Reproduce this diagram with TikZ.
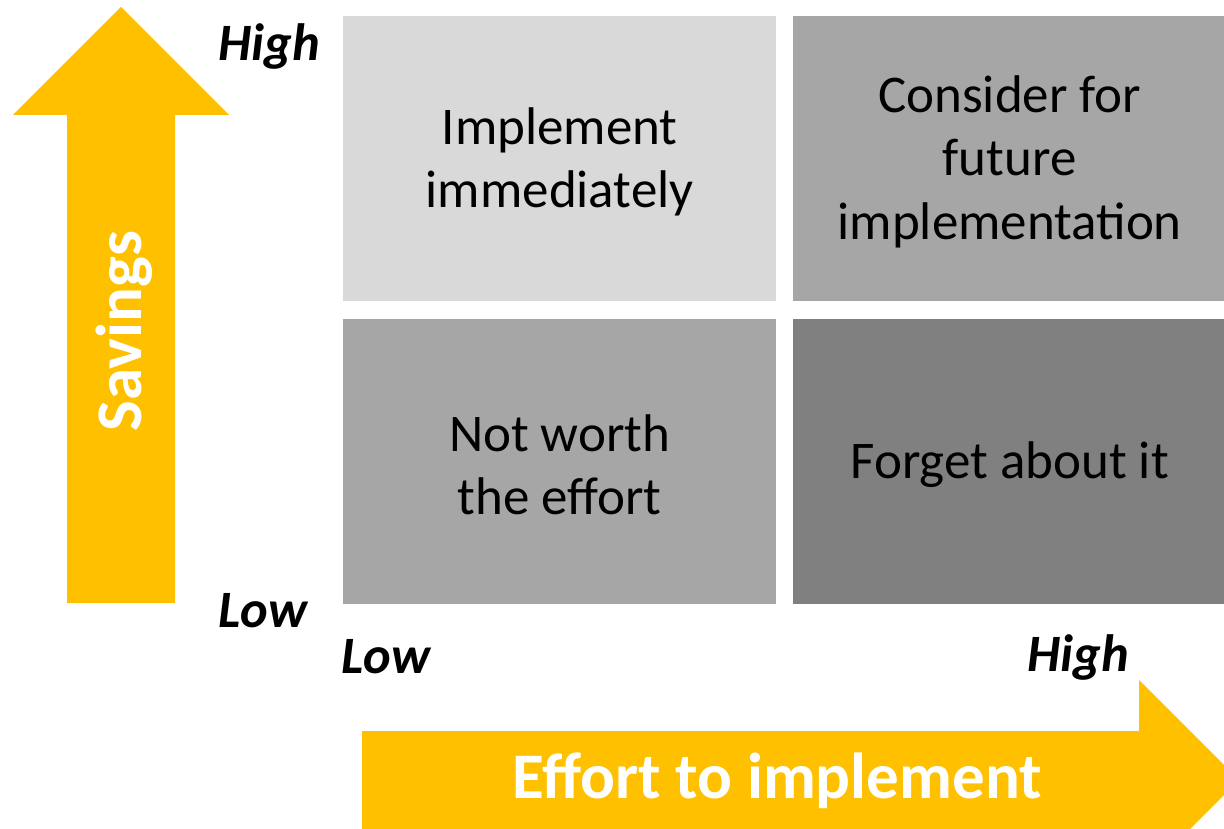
\documentclass[tikz,border=0pt]{standalone}
\usepackage{fontspec}
\setmainfont{Carlito}
\definecolor{arrowyellow}{HTML}{FFC000}
\definecolor{quadlight}{HTML}{D9D9D9}
\definecolor{quadmid}{HTML}{A6A6A6}
\definecolor{quaddark}{HTML}{808080}
\tikzset{
  quad/.style={minimum width=433pt, minimum height=285pt, inner sep=0pt, anchor=north west,
    font=\fontsize{53}{63.5}\selectfont, align=center, text=black},
  quadtext/.style={font=\fontsize{53}{63.5}\selectfont, align=center, text=black, inner sep=0pt},
  axislabel/.style={font=\fontsize{52.5}{60}\selectfont\bfseries\itshape, inner sep=0pt, text=black},
  arrowtext/.style={font=\fontsize{65}{70}\selectfont\bfseries, text=white, inner sep=0pt},
  bigarrow/.style={fill=arrowyellow, draw=none}
}
\begin{document}
\begin{tikzpicture}[x=1pt,y=-1pt]
\useasboundingbox (0,0) rectangle (1224,829);
\begin{scope}
\clip (0,0) rectangle (1224,829);
% vertical arrow
\fill[bigarrow] (67,603) -- (67,115) -- (13,115) -- (121,7) -- (229,115) -- (175,115) -- (175,603) -- cycle;
% horizontal arrow
\fill[bigarrow] (362,731) -- (1139,731) -- (1139,680) -- (1239,780) -- (1139,880) -- (1139,840) -- (362,840) -- cycle;
% quadrants
\node[quad, fill=quadlight] (tl) at (343,16) {};
\node[quad, fill=quadmid] (tr) at (793,16) {};
\node[quad, fill=quadmid] (bl) at (343,319) {};
\node[quad, fill=quaddark] (br) at (793,319) {};
\end{scope}
\node[quadtext] (tltext) at ([yshift=-3pt]tl.center) {Implement\\immediately};
\node[quadtext] (trtext) at ([yshift=-3pt]tr.center) {Consider for\\future\\implementation};
\node[quadtext] (bltext) at ([yshift=-3pt]bl.center) {Not worth\\the effort};
\node[quadtext] (brtext) at ([yshift=-3pt]br.center) {Forget about it};
% axis labels
\node[axislabel] (yhigh) at (269,47) {High};
\node[axislabel] (ylow) at (263,611) {Low};
\node[axislabel] (xlow) at (386,657) {Low};
\node[axislabel] (xhigh) at (1078,657) {High};
\node[arrowtext, rotate=90] (savings) at (124,331) {Savings};
\node[arrowtext] (effort) at (777,781) {Effort to implement};
\end{tikzpicture}
\end{document}
